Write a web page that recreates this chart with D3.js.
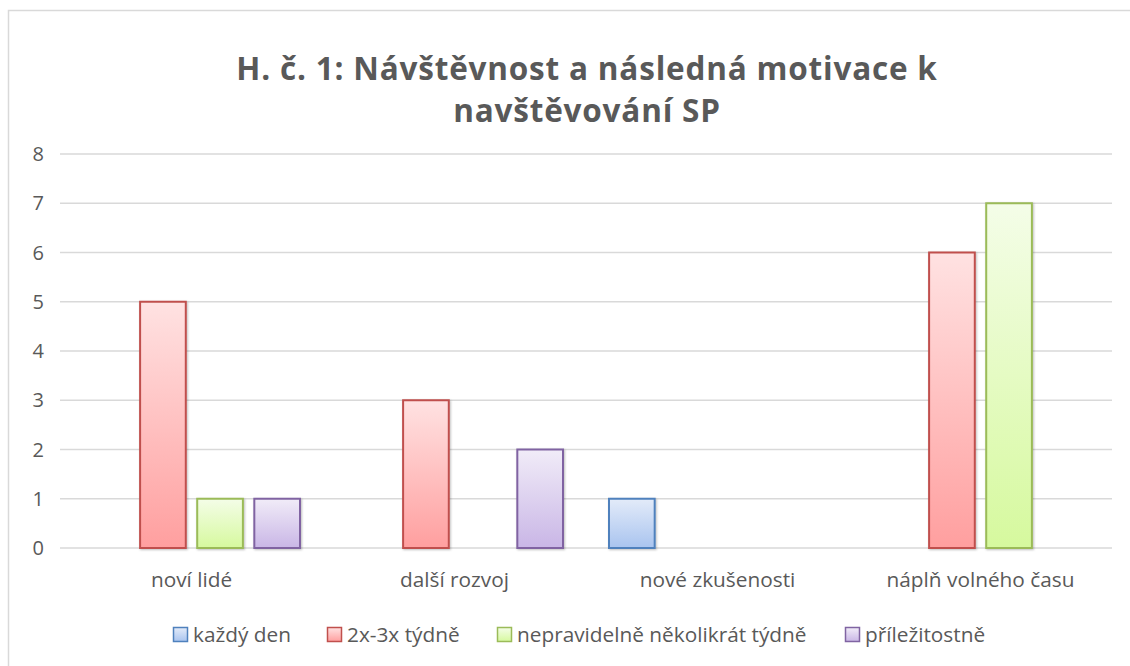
<!DOCTYPE html>
<meta charset="utf-8">
<style>
body { margin: 0; background: #fff; }
text { font-family: "Open Sans", "Lato", sans-serif; }
</style>
<body>
<div id="chart"></div>
<script src="https://cdnjs.cloudflare.com/ajax/libs/d3/7.8.5/d3.min.js"></script>
<script>

// Data
var categories = ["noví lidé", "další rozvoj", "nové zkušenosti", "náplň volného času"];
var series = ["každý den", "2x-3x týdně", "nepravidelně několikrát týdně", "příležitostně"];
var kazdyDen = [0, 0, 1, 0];
var dvaTriTydne = [5, 3, 0, 6];
var nepravidelne = [1, 0, 0, 7];
var prilezitostne = [1, 2, 0, 0];
var yTicks = [0, 1, 2, 3, 4, 5, 6, 7, 8];
var titleLines = ["H. č. 1: Návštěvnost a následná motivace k", "navštěvování SP"];

var values = [kazdyDen, dvaTriTydne, nepravidelne, prilezitostne];

var width = 1130;
var height = 666;

// colours: stroke, gradient top, gradient bottom
var colours = [
  ["#4f81bd", "#e3ebf9", "#a9c4ef"],
  ["#c0504d", "#ffe2e2", "#ff9f9f"],
  ["#9bbb59", "#f4fde8", "#d6f99e"],
  ["#8064a2", "#f1ecf8", "#c9b6e6"]
];

var svg = d3.select("#chart")
  .append("svg")
  .attr("width", width)
  .attr("height", height);

var defs = svg.append("defs");
colours.forEach(function(c, i) {
  var g = defs.append("linearGradient")
    .attr("id", "grad" + i)
    .attr("x1", 0).attr("y1", 0).attr("x2", 0).attr("y2", 1);
  g.append("stop").attr("offset", "0%").attr("stop-color", c[1]);
  g.append("stop").attr("offset", "100%").attr("stop-color", c[2]);
});

var shadow = defs.append("filter").attr("id", "shadow")
  .attr("x", "-20%").attr("y", "-20%").attr("width", "140%").attr("height", "140%");
shadow.append("feDropShadow")
  .attr("dx", 1).attr("dy", 1).attr("stdDeviation", 1.2)
  .attr("flood-color", "#000").attr("flood-opacity", 0.25);

// chart border (only left and top edges visible in the frame)
svg.append("rect")
  .attr("x", 8.5).attr("y", 10.5)
  .attr("width", 1200).attr("height", 700)
  .attr("fill", "none")
  .attr("stroke", "#d9d9d9")
  .attr("stroke-width", 1.5);

var plotLeft = 60, plotRight = 1112, plotTop = 154, plotBottom = 548;

var x0 = d3.scaleBand()
  .domain(categories)
  .range([plotLeft, plotRight])
  .paddingInner(0)
  .paddingOuter(0);

var x1 = d3.scaleBand()
  .domain(d3.range(series.length))
  .range([23, x0.bandwidth() - 23])
  .paddingInner(0.2);

var y = d3.scaleLinear()
  .domain([0, 8])
  .range([plotBottom, plotTop]);

// gridlines
svg.append("g")
  .selectAll("line")
  .data(yTicks)
  .enter()
  .append("line")
  .attr("x1", plotLeft).attr("x2", plotRight)
  .attr("y1", function(d) { return y(d); })
  .attr("y2", function(d) { return y(d); })
  .attr("stroke", "#d9d9d9")
  .attr("stroke-width", 1.5);

// y axis labels
svg.append("g")
  .selectAll("text")
  .data(yTicks)
  .enter()
  .append("text")
  .attr("x", 44)
  .attr("y", function(d) { return y(d); })
  .attr("dy", "0.35em")
  .attr("text-anchor", "end")
  .attr("font-size", 20)
  .attr("fill", "#595959")
  .text(function(d) { return d; });

// bars
var barsG = svg.append("g");
categories.forEach(function(cat, ci) {
  values.forEach(function(vals, si) {
    var v = vals[ci];
    if (v <= 0) return;
    barsG.append("rect")
      .attr("x", x0(cat) + x1(si))
      .attr("y", y(v))
      .attr("width", x1.bandwidth())
      .attr("height", y(0) - y(v))
      .attr("fill", "url(#grad" + si + ")")
      .attr("stroke", colours[si][0])
      .attr("stroke-width", 2)
      .attr("filter", "url(#shadow)");
  });
});

// x axis labels
svg.append("g")
  .selectAll("text")
  .data(categories)
  .enter()
  .append("text")
  .attr("x", function(d) { return x0(d) + x0.bandwidth() / 2; })
  .attr("y", 587)
  .attr("text-anchor", "middle")
  .attr("font-size", 20.8)
  .attr("fill", "#595959")
  .text(function(d) { return d; });

// title
svg.append("g")
  .selectAll("text")
  .data(titleLines)
  .enter()
  .append("text")
  .attr("x", 587)
  .attr("y", function(d, i) { return 80 + i * 42; })
  .attr("text-anchor", "middle")
  .attr("font-size", 31.5)
  .attr("letter-spacing", 0.8)
  .attr("font-weight", 700)
  .attr("fill", "#595959")
  .text(function(d) { return d; });

// legend
var legendX = [173, 327, 497, 845];
var legendG = svg.append("g");
series.forEach(function(s, i) {
  legendG.append("rect")
    .attr("x", legendX[i] + 0.5).attr("y", 627.5)
    .attr("width", 14).attr("height", 14)
    .attr("fill", "url(#grad" + i + ")")
    .attr("stroke", colours[i][0])
    .attr("stroke-width", 1.5);
  legendG.append("text")
    .attr("x", legendX[i] + 20)
    .attr("y", 642)
    .attr("font-size", 20.8)
    .attr("fill", "#595959")
    .text(s);
});

</script>
</body>
